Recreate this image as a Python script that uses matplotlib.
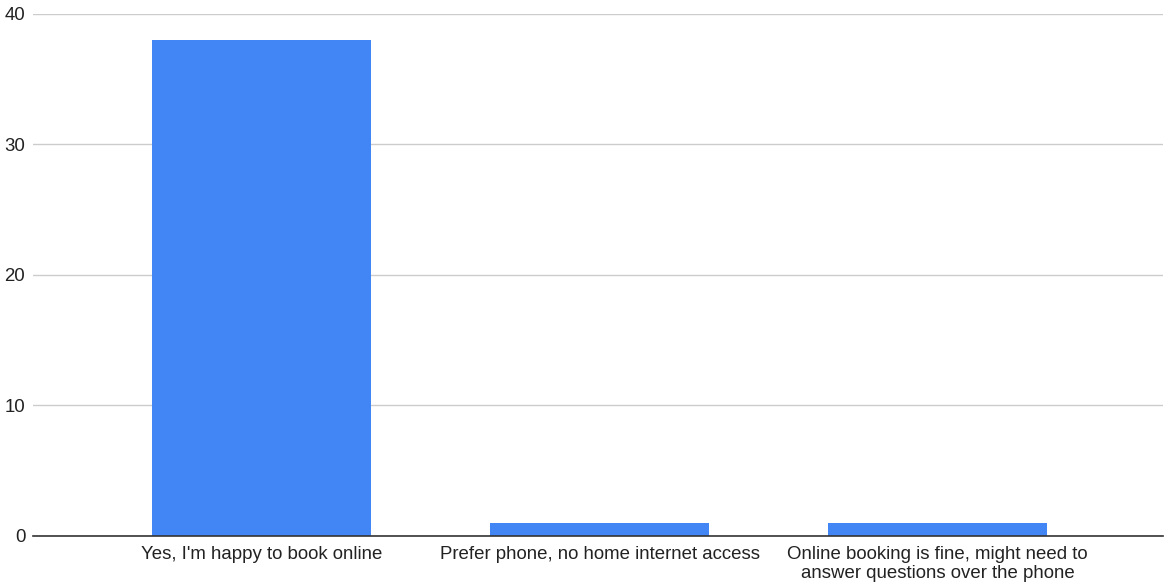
import matplotlib
matplotlib.use("Agg")
import matplotlib.pyplot as plt

categories = ["Yes, I'm happy to book online",
              "Prefer phone, no home internet access",
              "Online booking is fine, might need to\nanswer questions over the phone"]
counts = [38, 1, 1]
yticks = [0, 10, 20, 30, 40]

plt.rcParams['font.family'] = ['Liberation Sans', 'DejaVu Sans']

fig = plt.figure(figsize=(11.64, 5.83), dpi=100)
ax = fig.add_axes([33 / 1164, 1 - 536 / 583, (1163 - 33) / 1164, (536 - 13.5) / 583])

x = list(range(len(categories)))
ax.bar(x, counts, width=0.65, color='#4285f4', zorder=3)

ax.set_xlim(-0.676, 2.667)
ax.set_ylim(0, 40)
ax.set_yticks(yticks)
ax.set_xticks(x)
ax.set_xticklabels(categories, fontsize=13.4, color='#222222', linespacing=1.2)
ax.tick_params(axis='y', labelsize=13.4, colors='#222222', length=0, pad=5.5)
ax.tick_params(axis='x', length=0, pad=7)

ax.grid(axis='y', color='#cccccc', linewidth=1, zorder=0)
for s in ['top', 'right', 'left']:
    ax.spines[s].set_visible(False)
ax.spines['bottom'].set_color('#333333')
ax.spines['bottom'].set_linewidth(1.2)
ax.spines['bottom'].set_zorder(4)

fig.savefig('out.png', dpi=100)
